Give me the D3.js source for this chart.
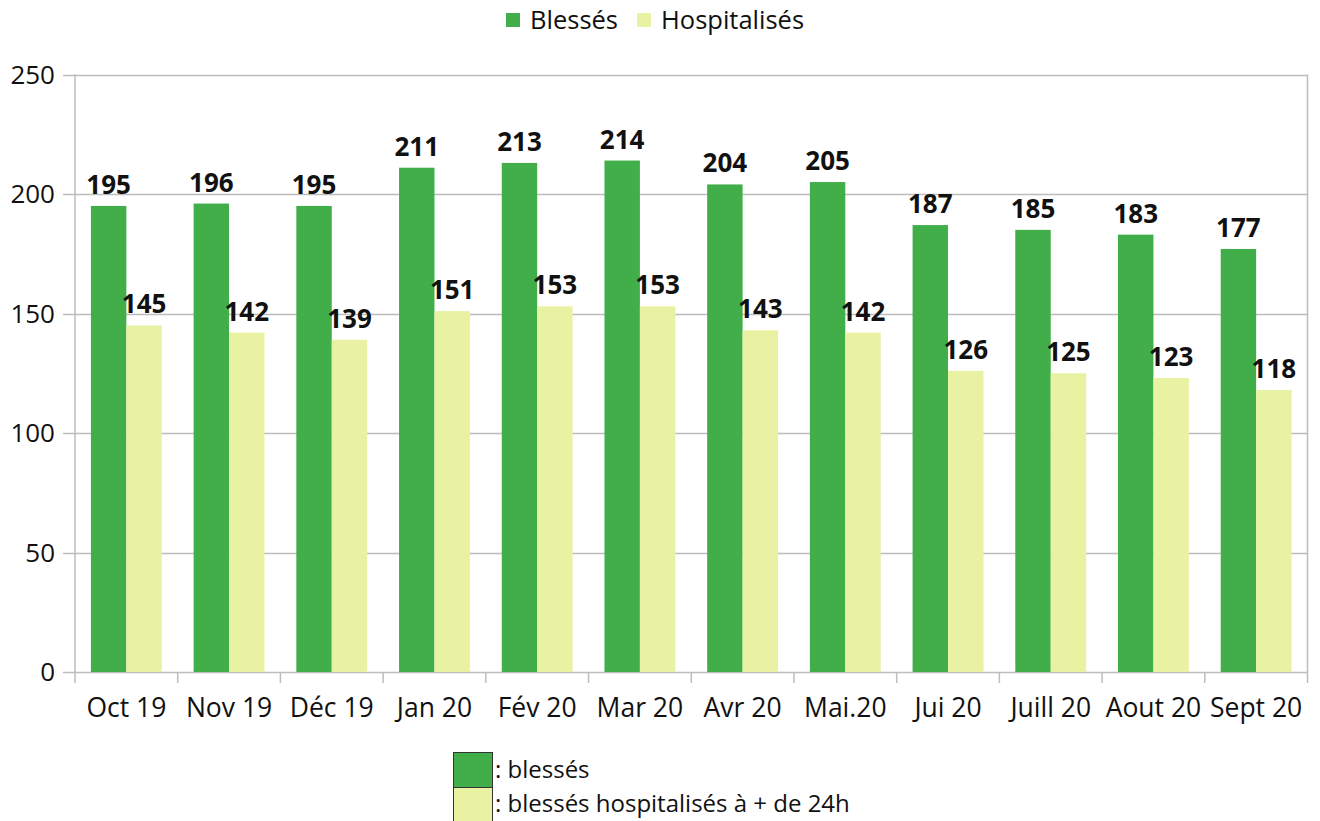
<!DOCTYPE html>
<html>
<head>
<meta charset="utf-8">
<script src="https://cdn.jsdelivr.net/npm/d3@7"></script>
<style>
  body { margin: 0; background: #fff; }
  svg { display: block; font-family: "Open Sans", "Lato", sans-serif; }
</style>
</head>
<body>
<svg width="1320" height="821"></svg>
<script>
var months = ['Oct 19', 'Nov 19', 'Déc 19', 'Jan 20', 'Fév 20', 'Mar 20', 'Avr 20', 'Mai.20', 'Jui 20', 'Juill 20', 'Aout 20', 'Sept 20'];
var blesses = [195, 196, 195, 211, 213, 214, 204, 205, 187, 185, 183, 177];
var hospitalises = [145, 142, 139, 151, 153, 153, 143, 142, 126, 125, 123, 118];
var seriesNames = ['Blessés', 'Hospitalisés'];
var yTicks = [0, 50, 100, 150, 200, 250];

var green = '#41ae49';
var yellow = '#e8f2a2';
var colors = [green, yellow];

var svg = d3.select('svg');
var plotL = 75, plotR = 1307.5, plotT = 74.5, plotB = 672;

var x = d3.scaleBand()
  .domain(months)
  .range([plotL, plotR])
  .paddingInner(0.31)
  .paddingOuter(0.155);

var xInner = d3.scaleBand()
  .domain([0, 1])
  .range([0, x.bandwidth()]);

var y = d3.scaleLinear()
  .domain([0, 250])
  .range([plotB, plotT]);

// grid
svg.append('g').selectAll('line')
  .data(yTicks)
  .join('line')
  .attr('x1', plotL - 12)
  .attr('x2', plotR)
  .attr('y1', function(d) { return Math.round(y(d)) + 0.5; })
  .attr('y2', function(d) { return Math.round(y(d)) + 0.5; })
  .attr('stroke', '#bdbdbd')
  .attr('stroke-width', 1.5);

svg.append('line')
  .attr('x1', plotL).attr('x2', plotL)
  .attr('y1', plotT).attr('y2', plotB + 11)
  .attr('stroke', '#bdbdbd').attr('stroke-width', 1.5);
svg.append('line')
  .attr('x1', plotR).attr('x2', plotR)
  .attr('y1', plotT).attr('y2', plotB + 11)
  .attr('stroke', '#bdbdbd').attr('stroke-width', 1.5);

// x ticks at band boundaries
var step = (plotR - plotL) / months.length;
svg.append('g').selectAll('line')
  .data(d3.range(1, months.length))
  .join('line')
  .attr('x1', function(i) { return plotL + i * step; })
  .attr('x2', function(i) { return plotL + i * step; })
  .attr('y1', plotB)
  .attr('y2', plotB + 11)
  .attr('stroke', '#bdbdbd')
  .attr('stroke-width', 1.5);

// y labels
svg.append('g').selectAll('text')
  .data(yTicks)
  .join('text')
  .attr('x', 55)
  .attr('y', function(d) { return y(d); })
  .attr('dy', '0.36em')
  .attr('text-anchor', 'end')
  .attr('font-size', 26)
  .attr('fill', '#111')
  .text(function(d) { return d; });

// x labels
svg.append('g').selectAll('text')
  .data(months)
  .join('text')
  .attr('x', function(d) { return plotL + (months.indexOf(d) + 0.5) * step; })
  .attr('y', 717)
  .attr('text-anchor', 'middle')
  .attr('font-size', 26.5)
  .attr('fill', '#111')
  .text(function(d) { return d; });

var series = [blesses, hospitalises];

series.forEach(function(vals, s) {
  var g = svg.append('g');
  g.selectAll('rect')
    .data(vals)
    .join('rect')
    .attr('x', function(d, i) { return x(months[i]) + xInner(s); })
    .attr('y', function(d) { return y(d); })
    .attr('width', xInner.bandwidth())
    .attr('height', function(d) { return plotB - y(d); })
    .attr('fill', colors[s]);

  g.selectAll('text')
    .data(vals)
    .join('text')
    .attr('x', function(d, i) { return x(months[i]) + xInner(s) + xInner.bandwidth() / 2; })
    .attr('y', function(d) { return y(d) - 12; })
    .attr('text-anchor', 'middle')
    .attr('font-size', 26)
    .attr('font-weight', 'bold')
    .attr('fill', '#111')
    .text(function(d) { return d; });
});

// top legend
var legX = [506, 637];
seriesNames.forEach(function(n, i) {
  svg.append('rect')
    .attr('x', legX[i]).attr('y', 13)
    .attr('width', 14).attr('height', 14)
    .attr('fill', colors[i]);
  svg.append('text')
    .attr('x', legX[i] + 24).attr('y', 29)
    .attr('font-size', 25.5)
    .attr('fill', '#111')
    .text(n);
});

// bottom legend
var notes = [': blessés', ': blessés hospitalisés à + de 24h'];
notes.forEach(function(n, i) {
  svg.append('rect')
    .attr('x', 453.5).attr('y', 752.5 + i * 35)
    .attr('width', 39).attr('height', 35)
    .attr('fill', colors[i])
    .attr('stroke', '#333')
    .attr('stroke-width', 1);
  svg.append('text')
    .attr('x', 495).attr('y', 778 + i * 34)
    .attr('font-size', 24)
    .attr('fill', '#111')
    .text(n);
});
</script>
</body>
</html>
